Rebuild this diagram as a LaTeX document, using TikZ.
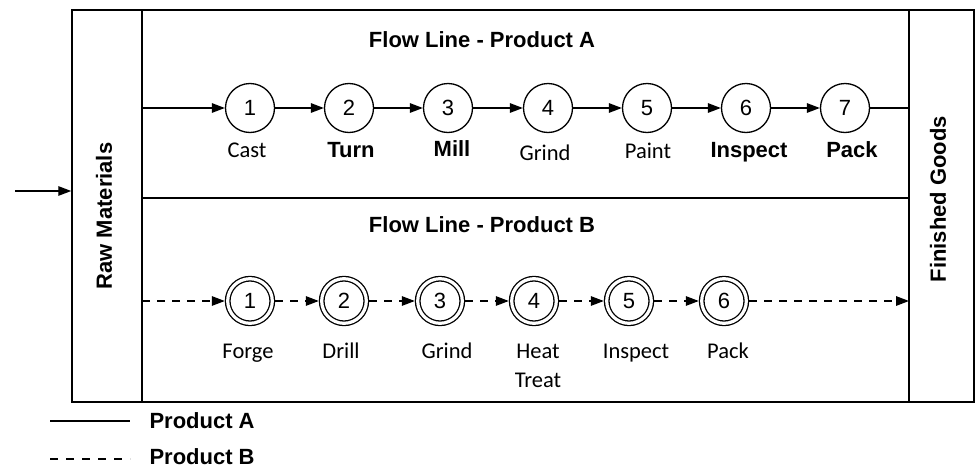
\documentclass[tikz,border=0pt]{standalone}
\usepackage{fontspec}
\setmainfont{Liberation Sans}
\newfontfamily\calib{Carlito}
\usetikzlibrary{arrows.meta}
\begin{document}
\begin{tikzpicture}[x=1pt,y=-1pt,
  panel/.style={draw, line width=1.5pt, inner sep=0pt},
  conn/.style={line width=1.4pt},
  dashconn/.style={line width=1.4pt, dash pattern=on 8pt off 7pt},
  arr/.style={-{Triangle[length=13pt,width=9.5pt]}},
  stA/.style={circle, draw, line width=1.3pt, minimum size=49pt, inner sep=0pt, font=\fontsize{22}{24}\selectfont},
  stB/.style={circle, draw, double, double distance=3.2pt, line width=1.3pt, minimum size=44.6pt, inner sep=0pt, outer sep=2.9pt, font=\fontsize{22}{24}\selectfont},
  bl/.style={anchor=base, font=\fontsize{22}{24}\selectfont\bfseries},
  rl/.style={anchor=base, font=\fontsize{22.5}{29}\selectfont\calib, align=center},
  ttl/.style={anchor=base, font=\fontsize{22}{24}\selectfont\bfseries}
]
\useasboundingbox (0,0) rectangle (976,471);
% boxes
\node[panel, minimum width=70pt, minimum height=392pt] (raw) at (107,206) {};
\node[panel, minimum width=65pt, minimum height=392pt] (fg) at (941.5,206) {};
\node[panel, minimum width=767pt, minimum height=188pt] (pA) at (525.5,104) {};
\node[panel, minimum width=767pt, minimum height=204pt] (pB) at (525.5,300) {};
\node[rotate=90, font=\fontsize{22}{24}\selectfont\bfseries] (rawt) at (104,216) {Raw Materials};
\node[rotate=90, font=\fontsize{22}{24}\selectfont\bfseries] (fgt) at (938,199) {Finished Goods};
% titles
\node[ttl] (tA) at (482,47) {Flow Line - Product A};
\node[ttl] (tB) at (482,232) {Flow Line - Product B};
% input
\coordinate (in) at (15,191);
\draw[conn, arr] (in) -- (in -| raw.west);
% product A
\coordinate (sA) at (142,108);
\coordinate (eA) at (909,108);
\node[stA] (a1) at (250,108) {1};
\node[stA] (a2) at (349,108) {2};
\node[stA] (a3) at (448,108) {3};
\node[stA] (a4) at (548,108) {4};
\node[stA] (a5) at (647,108) {5};
\node[stA] (a6) at (746,108) {6};
\node[stA] (a7) at (845,108) {7};
\draw[conn, arr] (sA) -- (a1);
\draw[conn, arr] (a1) -- (a2);
\draw[conn, arr] (a2) -- (a3);
\draw[conn, arr] (a3) -- (a4);
\draw[conn, arr] (a4) -- (a5);
\draw[conn, arr] (a5) -- (a6);
\draw[conn, arr] (a6) -- (a7);
\draw[conn] (a7) -- (eA);
\node[rl] (la1) at (247,157) {Cast};
\node[bl] (la2) at (351,157) {Turn};
\node[bl] (la3) at (452,156) {Mill};
\node[rl] (la4) at (545,160) {Grind};
\node[rl] (la5) at (648,158) {Paint};
\node[bl] (la6) at (749,157) {Inspect};
\node[bl] (la7) at (852,157) {Pack};
% product B
\coordinate (sB) at (142,301);
\coordinate (eB) at (909,301);
\node[stB] (b1) at (250,301) {1};
\node[stB] (b2) at (344,301) {2};
\node[stB] (b3) at (440,301) {3};
\node[stB] (b4) at (534,301) {4};
\node[stB] (b5) at (629,301) {5};
\node[stB] (b6) at (724,301) {6};
\draw[dashconn, arr] (sB) -- (b1);
\draw[dashconn, arr] (b1) -- (b2);
\draw[dashconn, arr] (b2) -- (b3);
\draw[dashconn, arr] (b3) -- (b4);
\draw[dashconn, arr] (b4) -- (b5);
\draw[dashconn, arr] (b5) -- (b6);
\draw[dashconn, arr] (b6) -- (eB);
\node[rl] (lb1) at (248,358) {Forge};
\node[rl] (lb2) at (341,358) {Drill};
\node[rl] (lb3) at (447,358) {Grind};
\node[rl] (lb4) at (538,387) {Heat\\Treat};
\node[rl] (lb5) at (636,358) {Inspect};
\node[rl] (lb6) at (728,358) {Pack};
% legend
\coordinate (lgA1) at (50,421);
\coordinate (lgA2) at (130,421);
\coordinate (lgB1) at (50,459);
\coordinate (lgB2) at (130,459);
\draw[conn] (lgA1) -- (lgA2);
\draw[dashconn, dash pattern=on 8pt off 8pt] (lgB1) -- (lgB2);
\node[bl, anchor=base west] (lgA) at (146,428) {Product A};
\node[bl, anchor=base west] (lgB) at (146,464) {Product B};
\end{tikzpicture}
\end{document}
